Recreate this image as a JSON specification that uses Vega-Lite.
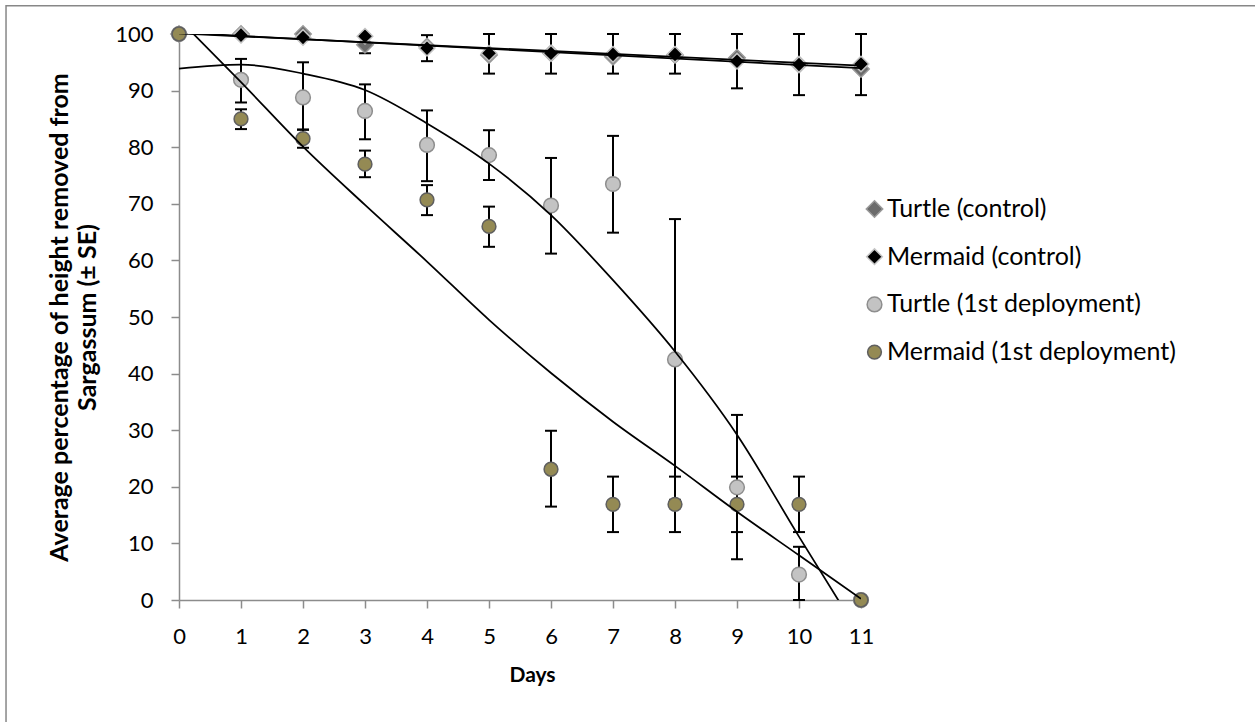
{
  "$schema": "https://vega.github.io/schema/vega-lite/v6.json",
  "width": 682,
  "height": 566,
  "padding": {"left": 179, "top": 34, "right": 394, "bottom": 122},
  "autosize": {"type": "none"},
  "background": "white",
  "config": {
    "view": {"stroke": null},
    "font": "Lato",
    "axis": {
      "grid": false,
      "domainColor": "#8c8c8c",
      "domainWidth": 1.5,
      "tickColor": "#8c8c8c",
      "tickWidth": 1.5,
      "tickSize": 8,
      "labelFont": "Lato",
      "labelFontSize": 22,
      "labelColor": "#000000",
      "labelOverlap": false,
      "labelFlush": false,
      "titleFont": "Lato",
      "titleFontSize": 21,
      "titleFontWeight": "bold",
      "titleColor": "#000000"
    },
    "legend": {
      "labelFont": "Lato",
      "labelFontSize": 25,
      "labelColor": "#000000",
      "labelLimit": 0,
      "symbolStrokeWidth": 1.5
    }
  },
  "datasets": {
    "points": [
      {"series": "Turtle (control)", "day": 0, "value": 100},
      {"series": "Turtle (control)", "day": 1, "value": 100},
      {"series": "Turtle (control)", "day": 2, "value": 100},
      {"series": "Turtle (control)", "day": 3, "value": 98.1},
      {"series": "Turtle (control)", "day": 4, "value": 97.8},
      {"series": "Turtle (control)", "day": 5, "value": 96.3},
      {"series": "Turtle (control)", "day": 6, "value": 96.6},
      {"series": "Turtle (control)", "day": 7, "value": 96.0},
      {"series": "Turtle (control)", "day": 8, "value": 96.3},
      {"series": "Turtle (control)", "day": 9, "value": 95.8},
      {"series": "Turtle (control)", "day": 10, "value": 94.6},
      {"series": "Turtle (control)", "day": 11, "value": 93.8},
      {"series": "Mermaid (control)", "day": 0, "value": 100},
      {"series": "Mermaid (control)", "day": 1, "value": 99.8},
      {"series": "Mermaid (control)", "day": 2, "value": 99.4},
      {"series": "Mermaid (control)", "day": 3, "value": 99.6},
      {"series": "Mermaid (control)", "day": 4, "value": 97.5},
      {"series": "Mermaid (control)", "day": 5, "value": 96.6},
      {"series": "Mermaid (control)", "day": 6, "value": 96.6},
      {"series": "Mermaid (control)", "day": 7, "value": 96.4},
      {"series": "Mermaid (control)", "day": 8, "value": 96.4},
      {"series": "Mermaid (control)", "day": 9, "value": 95.2},
      {"series": "Mermaid (control)", "day": 10, "value": 94.6},
      {"series": "Mermaid (control)", "day": 11, "value": 94.7},
      {"series": "Turtle (1st deployment)", "day": 0, "value": 100},
      {"series": "Turtle (1st deployment)", "day": 1, "value": 91.9},
      {"series": "Turtle (1st deployment)", "day": 2, "value": 88.8},
      {"series": "Turtle (1st deployment)", "day": 3, "value": 86.4},
      {"series": "Turtle (1st deployment)", "day": 4, "value": 80.4},
      {"series": "Turtle (1st deployment)", "day": 5, "value": 78.6},
      {"series": "Turtle (1st deployment)", "day": 6, "value": 69.7},
      {"series": "Turtle (1st deployment)", "day": 7, "value": 73.5},
      {"series": "Turtle (1st deployment)", "day": 8, "value": 42.5},
      {"series": "Turtle (1st deployment)", "day": 9, "value": 19.9},
      {"series": "Turtle (1st deployment)", "day": 10, "value": 4.5},
      {"series": "Turtle (1st deployment)", "day": 11, "value": 0},
      {"series": "Mermaid (1st deployment)", "day": 0, "value": 100},
      {"series": "Mermaid (1st deployment)", "day": 1, "value": 85.0},
      {"series": "Mermaid (1st deployment)", "day": 2, "value": 81.5},
      {"series": "Mermaid (1st deployment)", "day": 3, "value": 77.0},
      {"series": "Mermaid (1st deployment)", "day": 4, "value": 70.7},
      {"series": "Mermaid (1st deployment)", "day": 5, "value": 66.0},
      {"series": "Mermaid (1st deployment)", "day": 6, "value": 23.1},
      {"series": "Mermaid (1st deployment)", "day": 7, "value": 16.9},
      {"series": "Mermaid (1st deployment)", "day": 8, "value": 16.9},
      {"series": "Mermaid (1st deployment)", "day": 9, "value": 16.9},
      {"series": "Mermaid (1st deployment)", "day": 10, "value": 16.9},
      {"series": "Mermaid (1st deployment)", "day": 11, "value": 0}
    ],
    "errors": [
      {"series": "Mermaid (control)", "day": 3, "lo": 96.6, "hi": 100},
      {"series": "Mermaid (control)", "day": 4, "lo": 95.2, "hi": 99.8},
      {"series": "Mermaid (control)", "day": 5, "lo": 93.0, "hi": 100},
      {"series": "Mermaid (control)", "day": 6, "lo": 93.0, "hi": 100},
      {"series": "Mermaid (control)", "day": 7, "lo": 93.0, "hi": 100},
      {"series": "Mermaid (control)", "day": 8, "lo": 93.0, "hi": 100},
      {"series": "Mermaid (control)", "day": 9, "lo": 90.4, "hi": 100},
      {"series": "Mermaid (control)", "day": 10, "lo": 89.2, "hi": 100},
      {"series": "Mermaid (control)", "day": 11, "lo": 89.2, "hi": 100},
      {"series": "Turtle (1st deployment)", "day": 1, "lo": 87.9, "hi": 95.6},
      {"series": "Turtle (1st deployment)", "day": 2, "lo": 83.1, "hi": 95.0},
      {"series": "Turtle (1st deployment)", "day": 3, "lo": 81.4, "hi": 91.1},
      {"series": "Turtle (1st deployment)", "day": 4, "lo": 74.0, "hi": 86.5},
      {"series": "Turtle (1st deployment)", "day": 5, "lo": 74.2, "hi": 83.0},
      {"series": "Turtle (1st deployment)", "day": 6, "lo": 61.2, "hi": 78.1},
      {"series": "Turtle (1st deployment)", "day": 7, "lo": 64.9, "hi": 82.0},
      {"series": "Turtle (1st deployment)", "day": 8, "lo": 17.7, "hi": 67.3},
      {"series": "Turtle (1st deployment)", "day": 9, "lo": 7.2, "hi": 32.7},
      {"series": "Turtle (1st deployment)", "day": 10, "lo": 0, "hi": 9.4},
      {"series": "Mermaid (1st deployment)", "day": 1, "lo": 83.2, "hi": 86.7},
      {"series": "Mermaid (1st deployment)", "day": 2, "lo": 79.9, "hi": 83.1},
      {"series": "Mermaid (1st deployment)", "day": 3, "lo": 74.7, "hi": 79.4},
      {"series": "Mermaid (1st deployment)", "day": 4, "lo": 68.0, "hi": 73.3},
      {"series": "Mermaid (1st deployment)", "day": 5, "lo": 62.4, "hi": 69.5},
      {"series": "Mermaid (1st deployment)", "day": 6, "lo": 16.5, "hi": 29.9},
      {"series": "Mermaid (1st deployment)", "day": 7, "lo": 12.0, "hi": 21.8},
      {"series": "Mermaid (1st deployment)", "day": 8, "lo": 12.0, "hi": 21.8},
      {"series": "Mermaid (1st deployment)", "day": 9, "lo": 12.0, "hi": 21.8},
      {"series": "Mermaid (1st deployment)", "day": 10, "lo": 12.0, "hi": 21.8}
    ],
    "trends": [
      {"trend": "Turtle (control)", "day": 0, "value": 100.25},
      {"trend": "Turtle (control)", "day": 11, "value": 93.95},
      {"trend": "Mermaid (control)", "day": 0, "value": 100.1},
      {"trend": "Mermaid (control)", "day": 11, "value": 94.4},
      {"trend": "Turtle (1st deployment)", "day": 0, "value": 93.9},
      {"trend": "Turtle (1st deployment)", "day": 1, "value": 94.6},
      {"trend": "Turtle (1st deployment)", "day": 2, "value": 93.0},
      {"trend": "Turtle (1st deployment)", "day": 3, "value": 90.1},
      {"trend": "Turtle (1st deployment)", "day": 4, "value": 84.2},
      {"trend": "Turtle (1st deployment)", "day": 5, "value": 77.1},
      {"trend": "Turtle (1st deployment)", "day": 6, "value": 68.0},
      {"trend": "Turtle (1st deployment)", "day": 7, "value": 56.5},
      {"trend": "Turtle (1st deployment)", "day": 8, "value": 43.9},
      {"trend": "Turtle (1st deployment)", "day": 9, "value": 29.2},
      {"trend": "Turtle (1st deployment)", "day": 10, "value": 11.2},
      {"trend": "Turtle (1st deployment)", "day": 11, "value": -6.5},
      {"trend": "Mermaid (1st deployment)", "day": 0, "value": 102.6},
      {"trend": "Mermaid (1st deployment)", "day": 1, "value": 91.5},
      {"trend": "Mermaid (1st deployment)", "day": 2, "value": 80.1},
      {"trend": "Mermaid (1st deployment)", "day": 3, "value": 69.8},
      {"trend": "Mermaid (1st deployment)", "day": 4, "value": 59.8},
      {"trend": "Mermaid (1st deployment)", "day": 5, "value": 49.5},
      {"trend": "Mermaid (1st deployment)", "day": 6, "value": 40.1},
      {"trend": "Mermaid (1st deployment)", "day": 7, "value": 31.5},
      {"trend": "Mermaid (1st deployment)", "day": 8, "value": 23.7},
      {"trend": "Mermaid (1st deployment)", "day": 9, "value": 15.6},
      {"trend": "Mermaid (1st deployment)", "day": 10, "value": 7.9},
      {"trend": "Mermaid (1st deployment)", "day": 11, "value": 0.2}
    ],
    "frame": [{"x1": -2.79, "x2": 40, "y1": 105.0, "y2": -40}]
  },
  "layer": [
    {
      "data": {"name": "frame"},
      "mark": {"type": "rect", "filled": false, "stroke": "#878787", "strokeWidth": 1.5, "clip": false},
      "encoding": {
        "x": {"field": "x1", "type": "quantitative", "scale": {"domain": [0, 11], "nice": false, "zero": false}},
        "x2": {"field": "x2"},
        "y": {"field": "y1", "type": "quantitative", "scale": {"domain": [0, 100], "nice": false, "zero": false}},
        "y2": {"field": "y2"}
      }
    },
    {
      "data": {"name": "errors"},
      "mark": {"type": "rule", "color": "#000000", "strokeWidth": 2},
      "encoding": {
        "x": {"field": "day", "type": "quantitative"},
        "y": {"field": "lo", "type": "quantitative"},
        "y2": {"field": "hi"}
      }
    },
    {
      "data": {"name": "errors"},
      "mark": {"type": "tick", "orient": "horizontal", "color": "#000000", "thickness": 2, "size": 12, "opacity": 1},
      "encoding": {
        "x": {"field": "day", "type": "quantitative"},
        "y": {"field": "lo", "type": "quantitative"}
      }
    },
    {
      "data": {"name": "errors"},
      "mark": {"type": "tick", "orient": "horizontal", "color": "#000000", "thickness": 2, "size": 12, "opacity": 1},
      "encoding": {
        "x": {"field": "day", "type": "quantitative"},
        "y": {"field": "hi", "type": "quantitative"}
      }
    },
    {
      "data": {"name": "points"},
      "mark": {"type": "point", "filled": true, "opacity": 1, "strokeWidth": 1.5},
      "encoding": {
        "x": {
          "field": "day", "type": "quantitative",
          "scale": {"domain": [0, 11], "nice": false, "zero": false},
          "axis": {
            "values": [0, 1, 2, 3, 4, 5, 6, 7, 8, 9, 10, 11],
            "format": "d",
            "title": "Days",
            "labelBaseline": "alphabetic",
            "labelPadding": 35,
            "titleBaseline": "alphabetic",
            "titleX": 353,
            "titleY": 81
          }
        },
        "y": {
          "field": "value", "type": "quantitative",
          "scale": {"domain": [0, 100], "nice": false, "zero": false},
          "axis": {
            "values": [0, 10, 20, 30, 40, 50, 60, 70, 80, 90, 100],
            "format": "d",
            "title": ["Average percentage of height removed from", "Sargassum (± SE)"],
            "labelPadding": 18,
            "titleFontSize": 25,
            "titleAngle": -90,
            "titleAlign": "center",
            "titleBaseline": "alphabetic",
            "titleLineHeight": 28,
            "titleX": -112,
            "titleY": 283
          }
        },
        "shape": {
          "field": "series", "type": "nominal",
          "scale": {"domain": ["Turtle (control)", "Mermaid (control)", "Turtle (1st deployment)", "Mermaid (1st deployment)"], "range": ["diamond", "diamond", "circle", "circle"]},
          "legend": {"title": null, "orient": "none", "legendX": 683, "legendY": 162.5, "rowPadding": 21.7, "labelOffset": 0}
        },
        "fill": {
          "field": "series", "type": "nominal",
          "scale": {"domain": ["Turtle (control)", "Mermaid (control)", "Turtle (1st deployment)", "Mermaid (1st deployment)"], "range": ["#6b6b6b", "#000000", "#c3c3c3", "#948a54"]},
          "legend": {"title": null, "orient": "none", "legendX": 683, "legendY": 162.5, "rowPadding": 21.7, "labelOffset": 0}
        },
        "stroke": {
          "field": "series", "type": "nominal",
          "scale": {"domain": ["Turtle (control)", "Mermaid (control)", "Turtle (1st deployment)", "Mermaid (1st deployment)"], "range": ["#9a9a9a", "#c4c4c4", "#8e8e8e", "#5f5f5f"]},
          "legend": {"title": null, "orient": "none", "legendX": 683, "legendY": 162.5, "rowPadding": 21.7, "labelOffset": 0}
        },
        "size": {
          "field": "series", "type": "nominal",
          "scale": {"domain": ["Turtle (control)", "Mermaid (control)", "Turtle (1st deployment)", "Mermaid (1st deployment)"], "range": [270, 190, 190, 190]},
          "legend": {"title": null, "orient": "none", "legendX": 683, "legendY": 162.5, "rowPadding": 21.7, "labelOffset": 0}
        }
      }
    },
    {
      "data": {"name": "trends"},
      "mark": {"type": "line", "color": "#000000", "strokeWidth": 1.75, "interpolate": "monotone", "clip": true},
      "encoding": {
        "x": {"field": "day", "type": "quantitative"},
        "y": {"field": "value", "type": "quantitative"},
        "detail": {"field": "trend", "type": "nominal"}
      }
    }
  ]
}
